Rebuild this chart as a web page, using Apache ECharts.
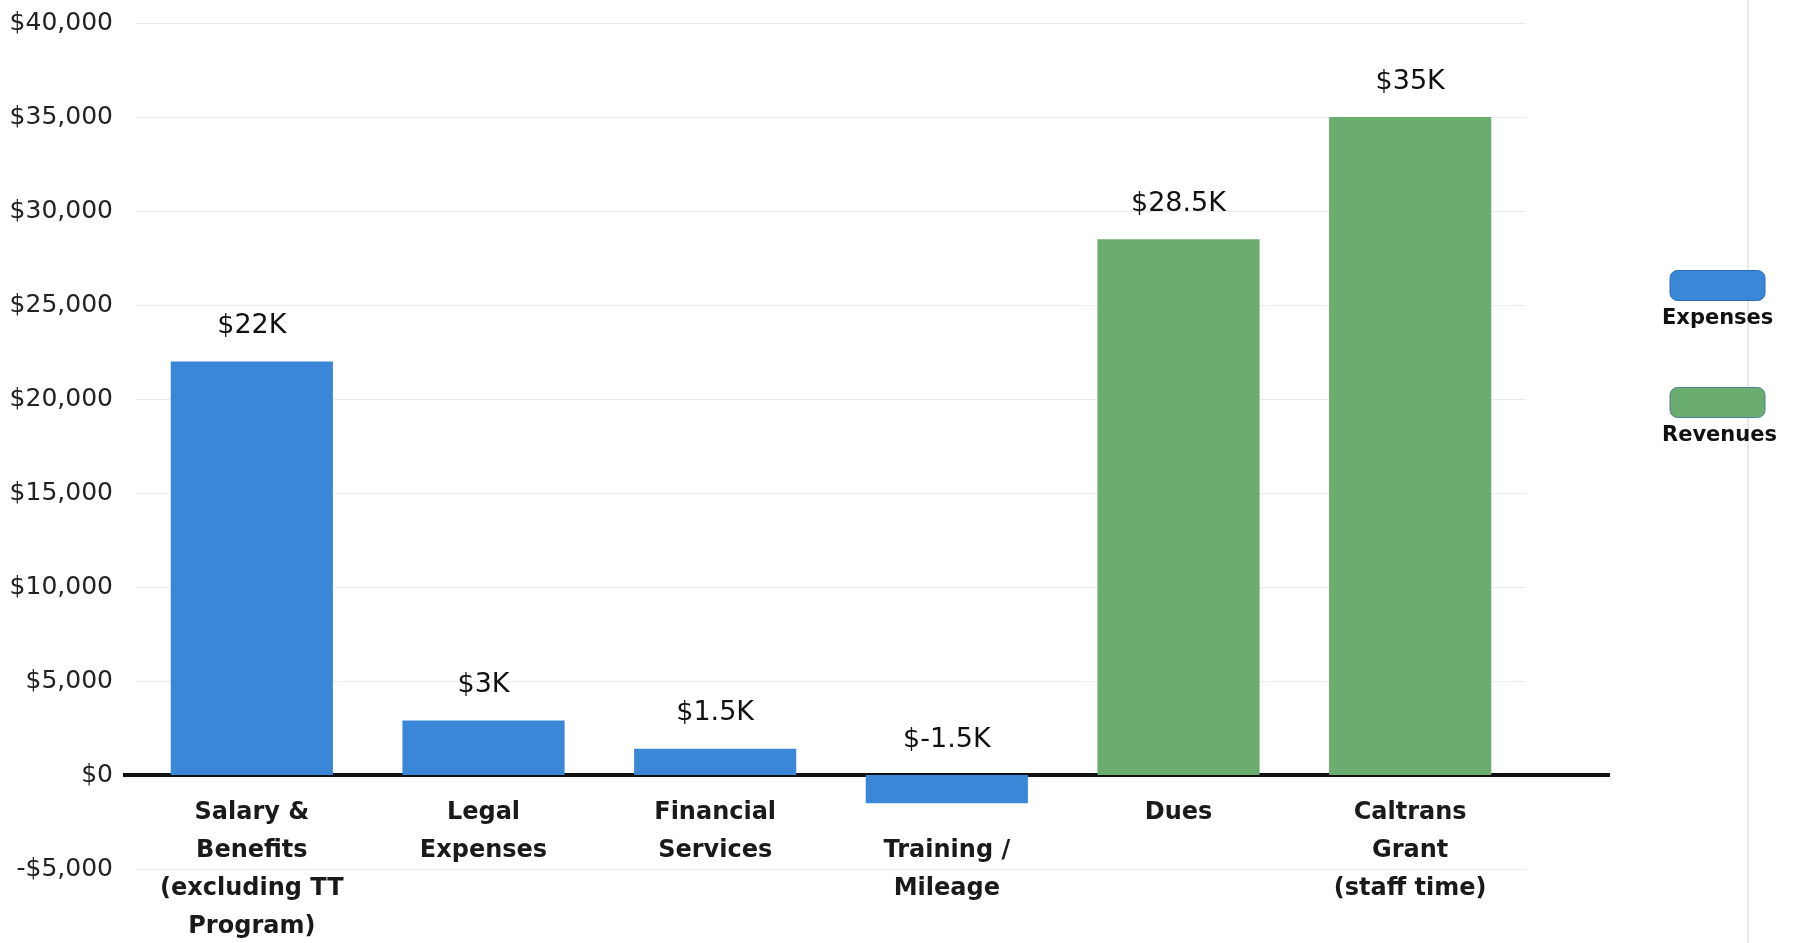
<!DOCTYPE html>
<html>
<head>
<meta charset="utf-8">
<script src="https://cdn.jsdelivr.net/npm/echarts@6/dist/echarts.min.js"></script>
<style>
html,body{margin:0;padding:0;background:#fff;}
#chart{width:1798px;height:943px;}
</style>
</head>
<body>
<div id="chart"></div>
<script>
const categories = [
  'Salary &\nBenefits\n(excluding TT\nProgram)',
  'Legal\nExpenses',
  'Financial\nServices',
  'Training /\nMileage',
  'Dues',
  'Caltrans\nGrant\n(staff time)'
];
const expenses = [22000, 2900, 1400, -1500, '-', '-'];
const revenues = ['-', '-', '-', '-', 28500, 35000];
const valueLabels = ['$22K', '$3K', '$1.5K', '$-1.5K', '$28.5K', '$35K'];
const seriesNames = ['Expenses', 'Revenues'];
const yMin = -5000, yMax = 40000, yStep = 5000;

const BLUE = '#3a87d8';
const GREEN = '#6aad6f';
const FONT = '"DejaVu Sans", "Liberation Sans", sans-serif';

function valueAt(i) {
  return typeof expenses[i] === 'number' ? expenses[i] : revenues[i];
}
function money(v) {
  const s = Math.abs(v).toLocaleString('en-US');
  return (v < 0 ? '-$' : '$') + s;
}

const chart = echarts.init(document.getElementById('chart'), null, {renderer: 'canvas'});

const labelCfg = {
  show: true,
  position: 'top',
  distance: 22,
  fontFamily: FONT,
  fontSize: 27,
  color: '#111',
  formatter: p => valueLabels[p.dataIndex]
};

chart.setOption({
  backgroundColor: '#ffffff',
  animation: false,
  grid: {left: 136, right: 272, top: 23, bottom: 74, containLabel: false, outerBoundsMode: 'none'},
  legend: {
    orient: 'vertical',
    left: 1662,
    top: 236,
    padding: 0,
    itemWidth: 95,
    itemHeight: 30,
    itemGap: 18,
    icon: 'roundRect',
    data: [
      {name: seriesNames[0], itemStyle: {borderColor: '#2d6db3', borderWidth: 1}},
      {name: seriesNames[1], itemStyle: {borderColor: '#4f7f9a', borderWidth: 1}}
    ],
    formatter: name => '\n\n' + name,
    textStyle: {
      fontFamily: FONT,
      fontSize: 21,
      fontWeight: 'bold',
      color: '#111',
      lineHeight: 33,
      padding: [0, 0, 0, -108]
    }
  },
  xAxis: {
    type: 'category',
    data: categories,
    axisLine: {show: true, onZero: false, lineStyle: {color: '#111', width: 4}},
    axisTick: {show: false},
    splitLine: {show: false},
    axisLabel: {
      interval: 0,
      margin: 19,
      fontFamily: FONT,
      fontSize: 24,
      fontWeight: 'bold',
      color: '#1a1a1a',
      lineHeight: 38,
      verticalAlign: 'top',
      formatter: (value, index) => (valueAt(index) < 0 ? '\n' : '') + value
    }
  },
  yAxis: {
    type: 'value',
    min: yMin,
    max: yMax,
    interval: yStep,
    axisLine: {show: false},
    axisTick: {show: false},
    splitLine: {show: true, lineStyle: {color: '#ececec', width: 1}},
    axisLabel: {
      margin: 23,
      fontFamily: FONT,
      fontSize: 25,
      color: '#222',
      formatter: v => money(v)
    }
  },
  series: [
    {
      name: seriesNames[0],
      type: 'bar',
      stack: 'all',
      barWidth: '70%',
      data: expenses,
      itemStyle: {color: BLUE},
      label: labelCfg
    },
    {
      name: seriesNames[1],
      type: 'bar',
      stack: 'all',
      barWidth: '70%',
      data: revenues,
      itemStyle: {color: GREEN},
      label: labelCfg
    }
  ]
});

// Move the category axis (line + labels) onto the zero value, using the library's scale
const y0 = chart.convertToPixel({yAxisIndex: 0}, 0);
const yBottom = chart.convertToPixel({yAxisIndex: 0}, yMin);
chart.setOption({
  xAxis: {offset: -(yBottom - y0)},
  graphic: [
    {
      type: 'line',
      z: 0,
      shape: {x1: 123, y1: y0, x2: 1610, y2: y0},
      style: {stroke: '#111', lineWidth: 4}
    },
    {
      type: 'rect',
      z: 0,
      shape: {x: 1747, y: 0, width: 2, height: 943},
      style: {fill: '#e8e8e8'}
    }
  ]
});
</script>
</body>
</html>
